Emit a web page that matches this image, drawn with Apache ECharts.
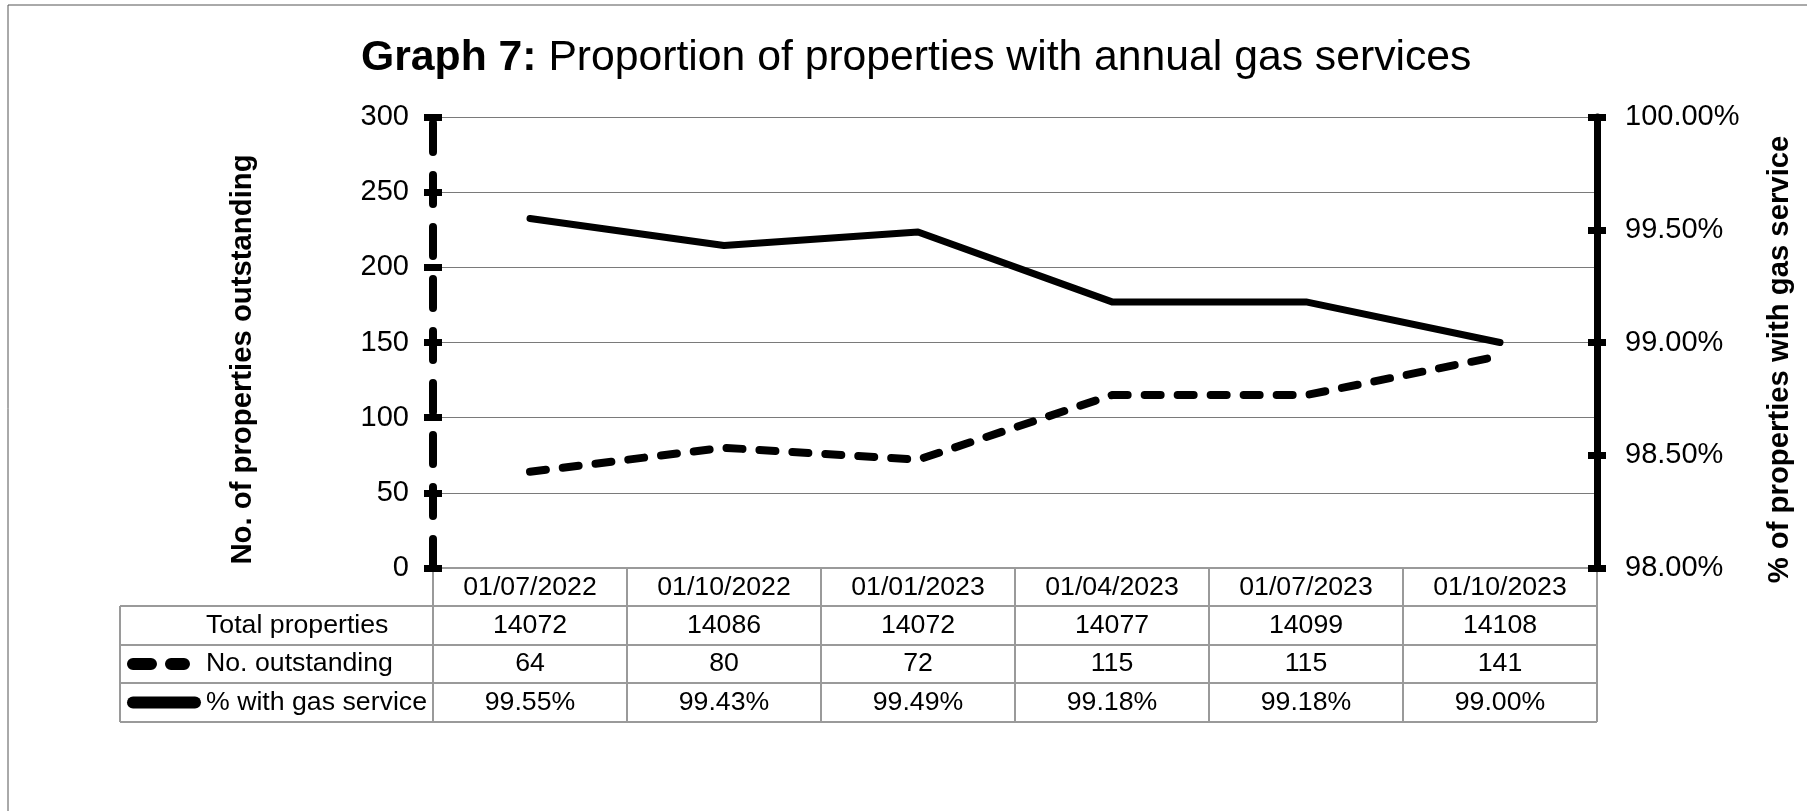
<!DOCTYPE html>
<html>
<head>
<meta charset="utf-8">
<script src="https://cdn.jsdelivr.net/npm/echarts@6/dist/echarts.min.js"></script>
<style>
  html, body { margin: 0; padding: 0; background: #fff; }
  #chart { width: 1807px; height: 811px; }
</style>
</head>
<body>
<div id="chart"></div>
<script>
// data
var categories = ['01/07/2022', '01/10/2022', '01/01/2023', '01/04/2023', '01/07/2023', '01/10/2023'];
var totalProperties = [14072, 14086, 14072, 14077, 14099, 14108];
var noOutstanding = [64, 80, 72, 115, 115, 141];
var pctWithService = [99.55, 99.43, 99.49, 99.18, 99.18, 99.00];
var rowLabels = ['Total properties', 'No. outstanding', '% with gas service'];

var FONT = '"Liberation Sans", Arial, sans-serif';
var gridL = 433, gridR = 1597, gridT = 117, gridB = 568;
var tableLeft = 120;
var rowY = [568, 606, 645, 683, 722]; // header row + 3 rows
var gray = '#9a9a9a';
var cellFont = 26.7;

var myChart = echarts.init(document.getElementById('chart'));

function tickAxis(pos, min, max, interval) {
  // extra axis only to draw the inner half of the crossing ticks
  return {
    type: 'value', position: pos, min: min, max: max, interval: interval,
    axisLine: { show: false },
    axisLabel: { show: false },
    splitLine: { show: false },
    axisTick: { show: true, inside: true, length: 9, lineStyle: { color: '#000', width: 7 } }
  };
}

myChart.setOption({
  animation: false,
  textStyle: { fontFamily: FONT },
  title: {
    text: '{b|Graph 7:} Proportion of properties with annual gas services',
    left: 356,
    top: 32,
    textStyle: {
      fontFamily: FONT, fontSize: 42.7, fontWeight: 'normal', color: '#000',
      rich: { b: { fontFamily: FONT, fontSize: 42.7, fontWeight: 'bold', color: '#000' } }
    }
  },
  grid: { left: gridL, right: 1807 - gridR, top: gridT, bottom: 811 - gridB },
  xAxis: {
    type: 'category',
    data: categories,
    boundaryGap: true,
    axisLine: { show: true, lineStyle: { color: gray, width: 2 } },
    axisTick: { show: false },
    axisLabel: { color: '#000', fontSize: cellFont, fontFamily: FONT, margin: 6 }
  },
  yAxis: [
    {
      type: 'value', position: 'left', min: 0, max: 300, interval: 50,
      name: 'No. of properties outstanding',
      nameLocation: 'middle', nameRotate: 90, nameGap: 176,
      nameTextStyle: { fontSize: 29.3, fontWeight: 'bold', color: '#000', fontFamily: FONT, padding: [0, 34, 0, 0] },
      axisLine: { show: true, lineStyle: { color: '#000', width: 8, type: [29, 23] } },
      axisTick: { show: true, length: 9, lineStyle: { color: '#000', width: 7 } },
      axisLabel: { color: '#000', fontSize: 29, fontFamily: FONT, margin: 24 },
      splitLine: { show: true, lineStyle: { color: '#7a7a7a', width: 1 } }
    },
    {
      type: 'value', position: 'right', min: 98, max: 100, interval: 0.5,
      name: '% of properties with gas service',
      nameLocation: 'middle', nameRotate: 90, nameGap: 168,
      nameTextStyle: { fontSize: 29.3, fontWeight: 'bold', color: '#000', fontFamily: FONT, padding: [0, 34, 0, 0] },
      axisLine: { show: true, lineStyle: { color: '#000', width: 7 } },
      axisTick: { show: true, length: 9, lineStyle: { color: '#000', width: 7 } },
      axisLabel: {
        color: '#000', fontSize: 29, fontFamily: FONT, margin: 28,
        formatter: function (v) { return v.toFixed(2) + '%'; }
      },
      splitLine: { show: false }
    },
    tickAxis('left', 0, 300, 50),
    tickAxis('right', 98, 100, 0.5)
  ],
  series: [
    {
      name: 'No. outstanding', type: 'line', yAxisIndex: 0,
      data: noOutstanding, symbol: 'none',
      lineStyle: { color: '#000', width: 8, type: [16, 17], cap: 'round', join: 'round' }
    },
    {
      name: '% with gas service', type: 'line', yAxisIndex: 1,
      data: pctWithService, symbol: 'none',
      lineStyle: { color: '#000', width: 7, cap: 'round', join: 'round' }
    }
  ]
});

// data table under the plot
var g = [];
// outer frame of the picture (only top/left visible)
g.push({ type: 'rect', shape: { x: 8, y: 5, width: 1900, height: 900 }, style: { fill: null, stroke: '#555', lineWidth: 1 } });
// horizontal lines
for (var r = 1; r < rowY.length; r++) {
  g.push({ type: 'line', shape: { x1: tableLeft, y1: rowY[r], x2: gridR, y2: rowY[r] }, style: { stroke: gray, lineWidth: 2 } });
}
// vertical lines
g.push({ type: 'line', shape: { x1: tableLeft, y1: rowY[1], x2: tableLeft, y2: rowY[4] }, style: { stroke: gray, lineWidth: 2 } });
var colW = (gridR - gridL) / categories.length;
for (var c = 0; c <= categories.length; c++) {
  var x = gridL + c * colW;
  g.push({ type: 'line', z: 0, shape: { x1: x, y1: rowY[0], x2: x, y2: rowY[4] }, style: { stroke: gray, lineWidth: 2 } });
}
// cell values
var rows = [
  totalProperties.map(String),
  noOutstanding.map(String),
  pctWithService.map(function (v) { return v.toFixed(2) + '%'; })
];
rows.forEach(function (vals, ri) {
  var cy = (rowY[ri + 1] + rowY[ri + 2]) / 2;
  vals.forEach(function (v, ci) {
    var px = myChart.convertToPixel({ xAxisIndex: 0 }, categories[ci]);
    g.push({ type: 'text', x: px, y: cy, style: { text: v, fill: '#000', font: cellFont + 'px ' + FONT, align: 'center', verticalAlign: 'middle' } });
  });
  g.push({ type: 'text', x: 206, y: cy, style: { text: rowLabels[ri], fill: '#000', font: cellFont + 'px ' + FONT, align: 'left', verticalAlign: 'middle' } });
});
// legend keys
var y2 = (rowY[2] + rowY[3]) / 2, y3 = (rowY[3] + rowY[4]) / 2;
g.push({ type: 'line', shape: { x1: 133, y1: y2, x2: 184, y2: y2 }, style: { stroke: '#000', lineWidth: 12, lineCap: 'round', lineDash: [18, 20] } });
g.push({ type: 'line', shape: { x1: 133, y1: y3, x2: 195, y2: y3 }, style: { stroke: '#000', lineWidth: 12, lineCap: 'round' } });

myChart.setOption({ graphic: g });
</script>
</body>
</html>
